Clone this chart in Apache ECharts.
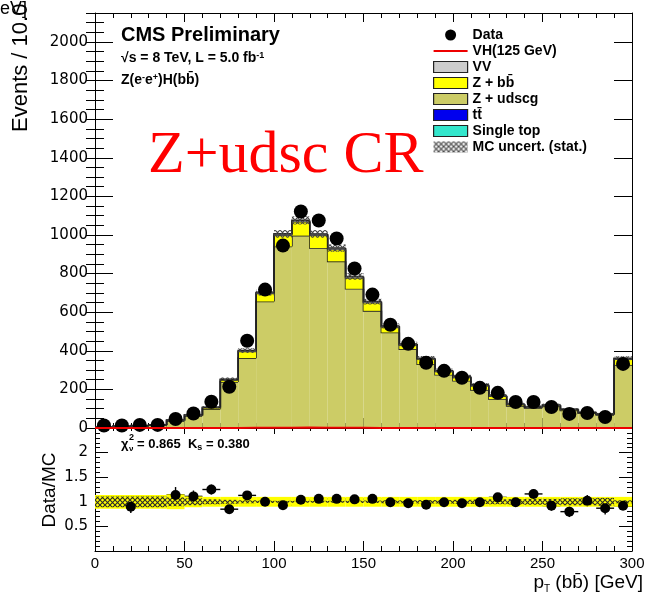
<!DOCTYPE html>
<html>
<head>
<meta charset="utf-8">
<script src="https://cdn.jsdelivr.net/npm/echarts@6/dist/echarts.min.js"></script>
<style>
  html, body { margin: 0; padding: 0; background: #fff; }
  #chart { width: 648px; height: 595px; }
</style>
</head>
<body>
<div id="chart"></div>
<script>
// pT(bb) distribution in the Z+udscg control region, 10 GeV bins (last bin holds overflow)
const binLow = [0, 10, 20, 30, 40, 50, 60, 70, 80, 90, 100, 110, 120, 130, 140,
                150, 160, 170, 180, 190, 200, 210, 220, 230, 240, 250, 260, 270, 280, 290];
const BIN_W = 10;

const dataCounts = [13, 13, 16, 16, 47, 75, 136, 214, 452, 717, 945, 1122, 1075, 982, 826,
                    691, 535, 436, 338, 296, 260, 208, 182, 135, 135, 109, 73, 78, 57, 332];

// Background predictions, stacked from the bottom
const singleTop = [0, 0, 0, 0.1, 0.1, 0.2, 0.2, 0.3, 0.4, 0.5, 0.5, 0.5, 0.5, 0.5, 0.4,
                   0.4, 0.3, 0.3, 0.3, 0.2, 0.2, 0.2, 0.2, 0.1, 0.1, 0.1, 0.1, 0.1, 0.1, 0.3];
const ttbar     = [0, 0, 0.1, 0.1, 0.2, 0.3, 0.4, 0.5, 0.6, 0.8, 1.0, 1.0, 0.9, 0.8, 0.7,
                   0.6, 0.5, 0.5, 0.4, 0.4, 0.3, 0.3, 0.3, 0.2, 0.2, 0.2, 0.2, 0.1, 0.1, 0.4];
const zudscg    = [6, 8, 11, 14, 36, 62, 97, 238, 361, 654, 939, 995, 931, 862, 720,
                   606, 494, 408, 330, 275, 244, 197, 150, 114, 104, 112, 91, 76, 68, 326];
const zbb       = [0.5, 0.5, 0.6, 0.8, 3, 4, 7, 10, 34, 42, 58, 72, 66, 62, 58,
                   43, 30, 22, 27, 18, 18, 22, 14, 7, 4, 5, 4, 3, 3, 30];
const vv        = [0.3, 0.3, 0.4, 0.5, 2, 2, 3, 4, 5, 5, 7, 7, 7, 7, 6,
                   5, 4, 4, 4, 4, 4, 4, 3, 3, 2, 2, 2, 2, 2, 5];
const vh125     = [0, 0, 0, 0, 0.1, 0.2, 0.3, 0.5, 0.8, 1.2, 1.8, 2.2, 1.6, 1.0, 0.7,
                   0.5, 0.4, 0.3, 0.2, 0.2, 0.1, 0.1, 0.1, 0.1, 0, 0, 0, 0, 0, 0.3];
// Statistical uncertainty of the summed prediction (events)
const mcStatErr = [2, 2, 2, 2, 4, 5, 6, 9, 12, 16, 20, 21, 20, 19, 17,
                   15, 13, 12, 11, 10, 9, 9, 8, 7, 7, 7, 6, 6, 5, 10];

// Data/MC ratio panel (first point merges 0-40 GeV)
const ratioX     = [20, 45, 55, 65, 75, 85, 95, 105, 115, 125, 135, 145, 155, 165,
                    175, 185, 195, 205, 215, 225, 235, 245, 255, 265, 275, 285, 295];
const ratioXErr  = [20, 5, 5, 5, 5, 5, 5, 5, 5, 5, 5, 5, 5, 5,
                    5, 5, 5, 5, 5, 5, 5, 5, 5, 5, 5, 5, 5];
const ratioVal   = [0.90, 1.14, 1.11, 1.25, 0.85, 1.13, 1.00, 0.93, 1.04, 1.06, 1.06, 1.05, 1.06, 0.99,
                    0.97, 0.94, 0.99, 0.97, 0.99, 1.09, 0.99, 1.16, 0.92, 0.80, 1.02, 0.87, 0.92];
const ratioErr   = [0.13, 0.16, 0.12, 0.10, 0.07, 0.06, 0.04, 0.04, 0.03, 0.03, 0.04, 0.04, 0.04, 0.05,
                    0.05, 0.06, 0.06, 0.07, 0.07, 0.08, 0.09, 0.10, 0.10, 0.11, 0.12, 0.13, 0.06];
const ratioEdges = [0, 40, 50, 60, 70, 80, 90, 100, 110, 120, 130, 140, 150, 160,
                    170, 180, 190, 200, 210, 220, 230, 240, 250, 260, 270, 280, 290, 300];
const ratioBandHalf = [0.14, 0.15, 0.11, 0.10, 0.10, 0.10, 0.10, 0.10, 0.10, 0.10, 0.10, 0.10, 0.10,
                       0.10, 0.10, 0.10, 0.10, 0.10, 0.10, 0.10, 0.10, 0.10, 0.10, 0.10, 0.10, 0.10, 0.10];
const ratioStatHalf = [0.11, 0.09, 0.07, 0.05, 0.04, 0.03, 0.025, 0.02, 0.02, 0.02, 0.02, 0.025, 0.025,
                       0.03, 0.03, 0.035, 0.035, 0.04, 0.045, 0.05, 0.055, 0.06, 0.06, 0.07, 0.07, 0.08, 0.03];

const yTicksMain = [0, 200, 400, 600, 800, 1000, 1200, 1400, 1600, 1800, 2000];

const SANS = '"Liberation Sans", Arial, Helvetica, sans-serif';
const LABEL_FONT = '"DejaVu Sans", "Liberation Sans", sans-serif';

function crossHatch(stroke, size, lw) {
  const c = document.createElement('canvas');
  c.width = c.height = size;
  const g = c.getContext('2d');
  g.strokeStyle = stroke;
  g.lineWidth = lw;
  g.beginPath();
  g.moveTo(0, 0); g.lineTo(size, size);
  g.moveTo(size, 0); g.lineTo(0, size);
  g.stroke();
  return c;
}
const hatchMain = { image: crossHatch('#444444', 5, 1.1), repeat: 'repeat' };
const hatchRatio = { image: crossHatch('#2a2a2a', 5, 1.1), repeat: 'repeat' };

const OUTLINE = '#222';

function stepRenderer(color) {
  return function (params, api) {
    const x0 = api.value(0), x1 = api.value(1);
    const lo = api.value(2), hi = api.value(3), prevHi = api.value(4);
    const pLo = api.coord([x0, lo]);
    const pHi = api.coord([x1, hi]);
    const pPrev = api.coord([x0, prevHi]);
    return {
      type: 'group',
      children: [
        { type: 'rect',
          shape: { x: pLo[0], y: pHi[1], width: pHi[0] - pLo[0], height: pLo[1] - pHi[1] },
          style: { fill: color } },
        { type: 'polyline',
          shape: { points: [[pLo[0], pPrev[1]], [pLo[0], pHi[1]], [pHi[0], pHi[1]]] },
          style: { stroke: OUTLINE, lineWidth: 1.6, fill: null } }
      ]
    };
  };
}

function bandRenderer(fill) {
  return function (params, api) {
    const p0 = api.coord([api.value(0), api.value(2)]);
    const p1 = api.coord([api.value(1), api.value(3)]);
    return { type: 'rect',
      shape: { x: p0[0], y: p1[1], width: p1[0] - p0[0], height: p0[1] - p1[1] },
      style: { fill: fill } };
  };
}

// Stack layers, bottom to top
const layers = [
  { name: 'Single top', vals: singleTop, color: '#33e6cc' },
  { name: 't\u0074\u0304', vals: ttbar, color: '#0000ee' },
  { name: 'Z + udscg', vals: zudscg, color: '#cccc66' },
  { name: 'Z + b\u0062\u0304', vals: zbb, color: '#ffff00' },
  { name: 'VV', vals: vv, color: '#cccccc' }
];

let base = binLow.map(() => 0);
const stackSeries = layers.map(L => {
  const rows = binLow.map((x, i) => [
    x, x + BIN_W, base[i], base[i] + L.vals[i],
    i > 0 ? base[i - 1] + L.vals[i - 1] : base[i]
  ]);
  base = base.map((b, i) => b + L.vals[i]);
  return {
    type: 'custom', name: L.name, xAxisIndex: 0, yAxisIndex: 0,
    itemStyle: { color: L.color }, clip: true,
    dimensions: ['x0', 'x1', 'lo', 'hi', 'prev'],
    encode: { x: [0, 1], y: [2, 3] },
    renderItem: stepRenderer(L.color), data: rows, silent: true
  };
});
const stackTotal = base;

const hatchRows = binLow.map((x, i) => [x, x + BIN_W, stackTotal[i] - mcStatErr[i], stackTotal[i] + mcStatErr[i]]);
const vhLine = binLow.map((x, i) => [x, vh125[i]]).concat([[300, vh125[vh125.length - 1]]]);
const dataPoints = binLow.map((x, i) => [x + BIN_W / 2, dataCounts[i]]);

const ratioBandRows = ratioBandHalf.map((h, i) => [ratioEdges[i], ratioEdges[i + 1], 1 - h, 1 + h]);
const ratioStatRows = ratioStatHalf.map((h, i) => [ratioEdges[i], ratioEdges[i + 1], 1 - h, 1 + h]);
const ratioRows = ratioX.map((x, i) => [x, ratioVal[i], ratioErr[i], ratioXErr[i]]);

const chart = echarts.init(document.getElementById('chart'), null, { renderer: 'canvas' });

const tickStyle = { color: '#000', width: 1 };
function xAxisDef(grid, pos, labels, major, minor) {
  return {
    type: 'value', gridIndex: grid, position: pos, min: 0, max: 300, interval: 50,
    axisLine: { show: true, onZero: false, lineStyle: { color: '#000', width: 1 } },
    axisTick: { show: true, inside: true, length: major, lineStyle: tickStyle },
    minorTick: { show: true, splitNumber: 5, length: minor, lineStyle: tickStyle },
    splitLine: { show: false }, minorSplitLine: { show: false },
    axisLabel: labels ? { show: true, margin: 5, color: '#000', fontSize: 15, fontFamily: SANS } : { show: false }
  };
}
function yAxisDef(grid, pos, opts) {
  return Object.assign({
    type: 'value', gridIndex: grid, position: pos,
    axisLine: { show: true, onZero: false, lineStyle: { color: '#000', width: 1 } },
    splitLine: { show: false }, minorSplitLine: { show: false },
    axisLabel: { show: false }
  }, opts);
}

const option = {
  animation: false,
  backgroundColor: '#fff',
  grid: [
    { left: 95, right: 16, top: 13, height: 415, outerBoundsMode: 'none' },
    { left: 95, right: 16, top: 428, height: 123, outerBoundsMode: 'none' }
  ],
  xAxis: [
    xAxisDef(0, 'bottom', false, 10, 5),
    xAxisDef(0, 'top', false, 9, 5),
    xAxisDef(1, 'bottom', true, 10, 5),
    xAxisDef(1, 'top', false, 6, 3)
  ],
  yAxis: [
    yAxisDef(0, 'left', {
      min: 0, max: 2150, interval: 200,
      axisTick: { show: true, inside: true, length: 18, lineStyle: tickStyle },
      axisLabel: { show: true, margin: 7, color: '#000', fontSize: 15, fontFamily: LABEL_FONT,
        formatter: v => (yTicksMain.indexOf(v) >= 0 ? String(v) : '') }
    }),
    yAxisDef(0, 'left', {
      min: 0, max: 2150, interval: 50, axisLine: { show: false },
      axisTick: { show: true, inside: true, length: 9, lineStyle: tickStyle }
    }),
    yAxisDef(0, 'right', {
      min: 0, max: 2150, interval: 200,
      axisTick: { show: true, inside: true, length: 18, lineStyle: tickStyle }
    }),
    yAxisDef(0, 'right', {
      min: 0, max: 2150, interval: 50, axisLine: { show: false },
      axisTick: { show: true, inside: true, length: 9, lineStyle: tickStyle }
    }),
    yAxisDef(1, 'left', {
      min: 0, max: 2.5, interval: 0.5,
      axisTick: { show: true, inside: true, length: 13, lineStyle: tickStyle },
      minorTick: { show: true, splitNumber: 5, length: 5, lineStyle: tickStyle },
      axisLabel: { show: true, margin: 7, color: '#000', fontSize: 15, fontFamily: LABEL_FONT,
        formatter: v => (v > 0 && v < 2.5 ? String(v) : '') }
    }),
    yAxisDef(1, 'right', {
      min: 0, max: 2.5, interval: 0.5,
      axisTick: { show: true, inside: true, length: 13, lineStyle: tickStyle },
      minorTick: { show: true, splitNumber: 5, length: 5, lineStyle: tickStyle }
    })
  ],
  legend: {
    orient: 'vertical', left: 428, top: 23,
    itemWidth: 34, itemHeight: 11, itemGap: 2,
    selectedMode: false,
    textStyle: { color: '#000', fontFamily: SANS, fontWeight: 'bold', fontSize: 14, lineHeight: 14 },
    data: [
      { name: 'Data', icon: 'circle', itemStyle: { color: '#000', opacity: 1 } },
      { name: 'VH(125 GeV)', icon: 'path://M0 0 H34 V2 H0 Z', itemStyle: { color: '#ee0000', opacity: 1 } },
      { name: 'VV', icon: 'rect', itemStyle: { color: '#cccccc', borderColor: OUTLINE, borderWidth: 1.2 } },
      { name: 'Z + b\u0062\u0304', icon: 'rect', itemStyle: { color: '#ffff00', borderColor: OUTLINE, borderWidth: 1.2 } },
      { name: 'Z + udscg', icon: 'rect', itemStyle: { color: '#cccc66', borderColor: OUTLINE, borderWidth: 1.2 } },
      { name: 't\u0074\u0304', icon: 'rect', itemStyle: { color: '#0000ee', borderColor: OUTLINE, borderWidth: 1.2 } },
      { name: 'Single top', icon: 'rect', itemStyle: { color: '#33e6cc', borderColor: OUTLINE, borderWidth: 1.2 } },
      { name: 'MC uncert. (stat.)', icon: 'rect', itemStyle: { color: hatchMain, borderWidth: 0 } }
    ]
  },
  series: stackSeries.concat([
    {
      type: 'custom', name: 'MC uncert. (stat.)', xAxisIndex: 0, yAxisIndex: 0,
      itemStyle: { color: hatchMain }, clip: true, silent: true,
      dimensions: ['x0', 'x1', 'lo', 'hi'], encode: { x: [0, 1], y: [2, 3] },
      renderItem: bandRenderer(hatchMain), data: hatchRows
    },
    {
      type: 'line', name: 'VH(125 GeV)', xAxisIndex: 0, yAxisIndex: 0,
      step: 'end', symbol: 'none', showSymbol: false, silent: true,
      lineStyle: { color: '#ee0000', width: 2 }, itemStyle: { color: '#ee0000' },
      data: vhLine
    },
    {
      type: 'scatter', name: 'Data', xAxisIndex: 0, yAxisIndex: 0,
      symbol: 'circle', symbolSize: 14, itemStyle: { color: '#000', opacity: 1 }, silent: true,
      data: dataPoints
    },
    // ratio panel
    {
      type: 'custom', name: 'ratio-err', xAxisIndex: 2, yAxisIndex: 4, silent: true, clip: true,
      dimensions: ['x', 'r', 'e', 'xe'], encode: { x: 0, y: 1 },
      renderItem: function (params, api) {
        const x = api.value(0), r = api.value(1), e = api.value(2), xe = api.value(3);
        const a = api.coord([x, r - e]), b = api.coord([x, r + e]);
        const l = api.coord([x - xe, r]), rr = api.coord([x + xe, r]);
        return { type: 'group', children: [
          { type: 'line', shape: { x1: a[0], y1: a[1], x2: b[0], y2: b[1] }, style: { stroke: '#000', lineWidth: 1.4 } },
          { type: 'line', shape: { x1: l[0], y1: l[1], x2: rr[0], y2: rr[1] }, style: { stroke: '#000', lineWidth: 1.4 } }
        ] };
      },
      data: ratioRows
    },
    {
      type: 'custom', name: 'ratio-band', xAxisIndex: 2, yAxisIndex: 4, silent: true, clip: true,
      dimensions: ['x0', 'x1', 'lo', 'hi'], encode: { x: [0, 1], y: [2, 3] },
      renderItem: bandRenderer('#ffff00'), data: ratioBandRows
    },
    {
      type: 'custom', name: 'ratio-stat', xAxisIndex: 2, yAxisIndex: 4, silent: true, clip: true,
      dimensions: ['x0', 'x1', 'lo', 'hi'], encode: { x: [0, 1], y: [2, 3] },
      renderItem: bandRenderer(hatchRatio), data: ratioStatRows
    },
    {
      type: 'scatter', name: 'ratio', xAxisIndex: 2, yAxisIndex: 4, silent: true,
      symbol: 'circle', symbolSize: 10, itemStyle: { color: '#000', opacity: 1 },
      data: ratioX.map((x, i) => [x, ratioVal[i]])
    }
  ]),
  graphic: [
    { type: 'text', x: 121, y: 35, style: { text: 'CMS Preliminary', fill: '#000',
        font: 'bold 20px ' + SANS, verticalAlign: 'middle' } },
    { type: 'text', x: 121, y: 58, style: { text: '\u221As = 8 TeV, L = 5.0 fb{sup|-1}', fill: '#000',
        font: 'bold 14px ' + SANS, verticalAlign: 'middle',
        rich: { sup: { fontSize: 9, fontWeight: 'bold', fontFamily: SANS, verticalAlign: 'top', lineHeight: 14 } } } },
    { type: 'text', x: 121, y: 80, style: { text: 'Z(e{sup|-}e{sup|+})H(b\u0062\u0304)', fill: '#000',
        font: 'bold 14px ' + SANS, verticalAlign: 'middle',
        rich: { sup: { fontSize: 9, fontWeight: 'bold', fontFamily: SANS, verticalAlign: 'top', lineHeight: 14 } } } },
    { type: 'text', x: 148, y: 156, style: { text: 'Z+udsc CR', fill: '#ff0000',
        font: '60px "Liberation Serif", "Times New Roman", serif', verticalAlign: 'middle' } },
    { type: 'text', x: 21, y: 132, rotation: Math.PI / 2, style: { text: 'Events / 10.0 GeV', fill: '#000',
        font: '22px ' + SANS, align: 'left', verticalAlign: 'middle' } },
    { type: 'text', x: 0, y: 9, style: { text: 'eV]', fill: '#000', font: '18px ' + SANS, verticalAlign: 'middle' } },
    { type: 'text', x: 50, y: 490, rotation: Math.PI / 2, style: { text: 'Data/MC', fill: '#000',
        font: '19px ' + SANS, align: 'center', verticalAlign: 'middle' } },
    { type: 'text', x: 643, y: 583, style: { text: 'p{sub|T} (b\u0062\u0304) [GeV]', fill: '#000',
        font: '19px ' + SANS, align: 'right', verticalAlign: 'middle',
        rich: { sub: { fontSize: 10, fontFamily: SANS, verticalAlign: 'bottom', lineHeight: 22 } } } },
    { type: 'text', x: 121, y: 444, style: { text: '\u03C7', fill: '#000', font: 'bold 13px ' + SANS, verticalAlign: 'middle' } },
    { type: 'text', x: 129, y: 438, style: { text: '2', fill: '#000', font: 'bold 9px ' + SANS, verticalAlign: 'middle' } },
    { type: 'text', x: 129, y: 449, style: { text: '\u03BD', fill: '#000', font: 'bold 8px ' + SANS, verticalAlign: 'middle' } },
    { type: 'text', x: 137, y: 444, style: { text: '= 0.865  K{sub|s} = 0.380', fill: '#000',
        font: 'bold 13px ' + SANS, verticalAlign: 'middle',
        rich: { sub: { fontSize: 9, fontWeight: 'bold', fontFamily: SANS, verticalAlign: 'bottom', lineHeight: 17 } } } }
  ]
};

chart.setOption(option);
</script>
</body>
</html>
